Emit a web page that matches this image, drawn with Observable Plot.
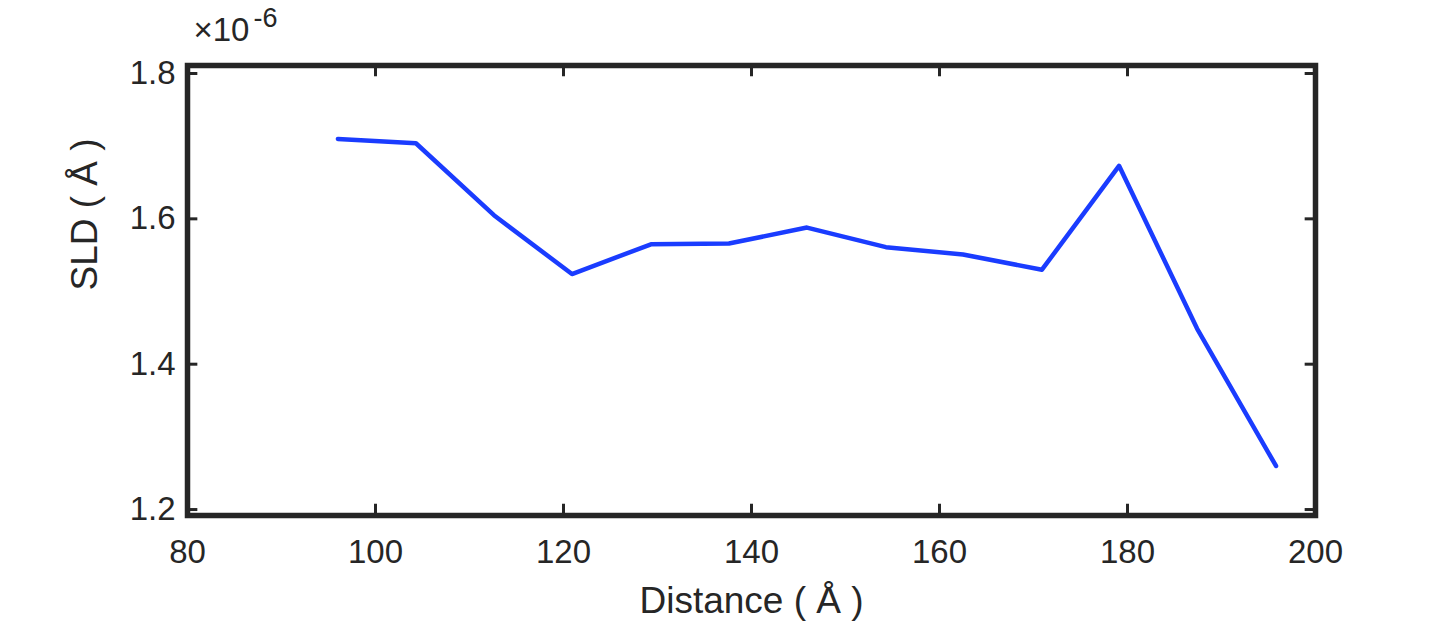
<!DOCTYPE html>
<html><head><meta charset="utf-8">
<script src="https://cdn.jsdelivr.net/npm/d3@7"></script>
<script src="https://cdn.jsdelivr.net/npm/@observablehq/plot@0.6"></script>
<style>body{margin:0;background:#fff}</style>
</head><body><div id="chart"></div>
<script>
const distance = [96, 104.3, 112.6, 120.9, 129.3, 137.6, 145.9, 154.3, 162.5, 170.9, 179.1, 187.4, 195.8]
const sld = [1.710, 1.704, 1.605, 1.524, 1.565, 1.566, 1.588, 1.561, 1.551, 1.530, 1.673, 1.449, 1.260]
const xTicks = [80, 100, 120, 140, 160, 180, 200]
const yTicks = [1.2, 1.4, 1.6, 1.8]
const xDom = [80, 200], yDom = [1.1918, 1.811]

const data = distance.map((d, i) => ({x: d, y: sld[i]}))
const ink = '#262626'
const chart = Plot.plot({
  width: 1453, height: 641,
  marginLeft: 187, marginRight: 138, marginTop: 65, marginBottom: 126,
  style: {fontFamily: 'Liberation Sans, Arial, sans-serif', fontSize: '33px', color: ink},
  x: {domain: xDom},
  y: {domain: yDom},
  marks: [
    Plot.axisX({ticks: xTicks, tickSize: 0, tickPadding: 24, fontSize: 33, label: null}),
    Plot.axisY({ticks: yTicks, tickSize: 0, tickPadding: 12, fontSize: 33, tickFormat: d => d.toFixed(1), label: null}),
    // inward ticks on all four sides
    Plot.ruleX(xTicks, {y1: yDom[0], y2: yDom[0] + 0.0155, stroke: ink, strokeWidth: 3}),
    Plot.ruleX(xTicks, {y1: yDom[1], y2: yDom[1] - 0.0155, stroke: ink, strokeWidth: 3}),
    Plot.ruleY(yTicks, {x1: xDom[0], x2: xDom[0] + 1.1, stroke: ink, strokeWidth: 3}),
    Plot.ruleY(yTicks, {x1: xDom[1], x2: xDom[1] - 1.1, stroke: ink, strokeWidth: 3}),
    Plot.line(data, {x: 'x', y: 'y', stroke: '#1a3cff', strokeWidth: 4.5}),
    Plot.frame({stroke: ink, strokeWidth: 5.5}),
    Plot.text(['Distance ( Å )'], {frameAnchor: 'bottom', dy: 97, fontSize: 37, fill: ink}),
    Plot.text(['SLD ( Å )'], {frameAnchor: 'left', dx: -102, rotate: -90, fontSize: 37, fill: ink}),
    Plot.text(['×10'], {frameAnchor: 'top-left', dx: 6, dy: -48, textAnchor: 'start', fontSize: 33, fill: ink}),
    Plot.text(['-6'], {frameAnchor: 'top-left', dx: 66, dy: -58, textAnchor: 'start', fontSize: 27, fill: ink})
  ]
})
document.getElementById('chart').append(chart)
</script>
</body></html>
